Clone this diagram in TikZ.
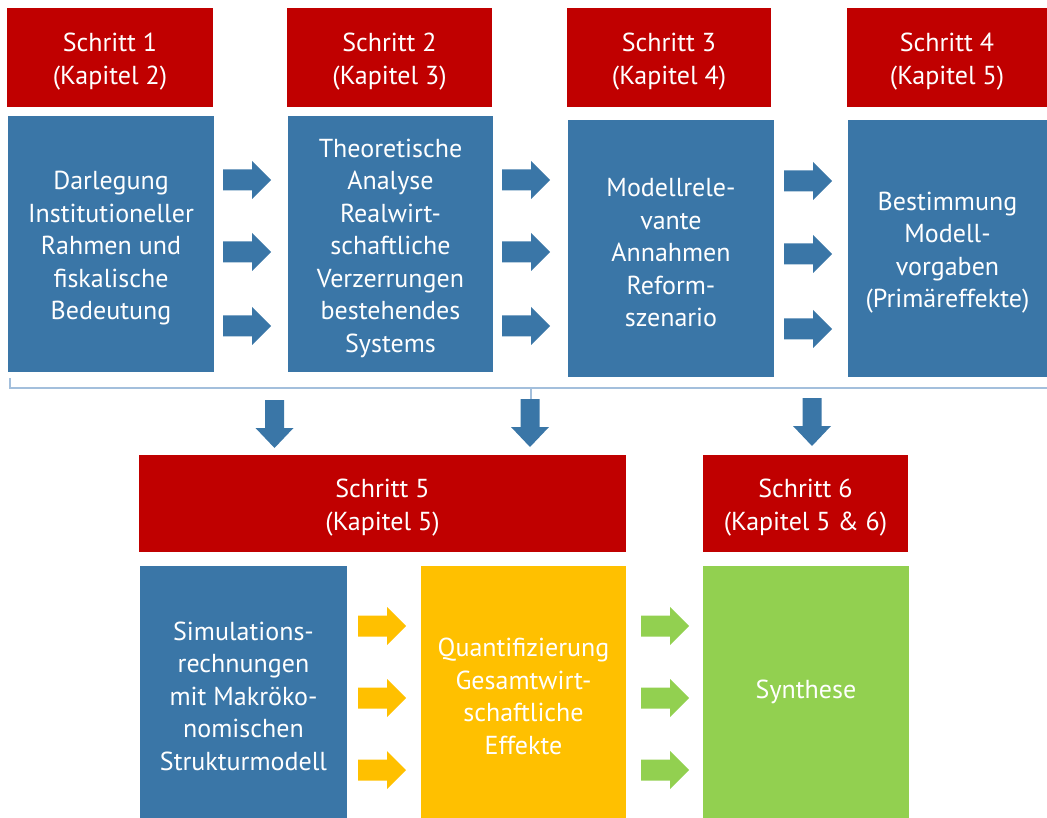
\documentclass[tikz,border=0pt]{standalone}
\usepackage{fontspec}
\setmainfont{PT Sans}
\definecolor{redC}{HTML}{C00000}
\definecolor{blueC}{HTML}{3A76A7}
\definecolor{orangeC}{HTML}{FFC000}
\definecolor{greenC}{HTML}{92D050}
\definecolor{braceC}{HTML}{A3BFDC}
\newcommand\fl{\rule{0pt}{27pt}}
\begin{document}
\begin{tikzpicture}[x=1pt,y=-1pt,
  blk/.style={rectangle, inner sep=0pt, align=center, text=white,
    font=\fontsize{26}{32.5}\selectfont},
  head/.style={blk, fill=redC},
  bbox/.style={blk, fill=blueC},
  rarr/.pic={\fill[#1] (-24,-10.5) -- (5,-10.5) -- (5,-19) -- (24,0) -- (5,19) -- (5,10.5) -- (-24,10.5) -- cycle;},
  darr/.pic={\fill[#1] (-9.5,-24) -- (9.5,-24) -- (9.5,4) -- (19,4) -- (0,24) -- (-19,4) -- (-9.5,4) -- cycle;}
]
\useasboundingbox (0,0) rectangle (1047,818);
% top headers
\node[head, minimum width=206pt, minimum height=99pt] (h1) at (110,57.5) {\fl Schritt 1\\(Kapitel 2)};
\node[head, minimum width=205pt, minimum height=99pt] (h2) at (389.5,57.5) {\fl Schritt 2\\(Kapitel 3)};
\node[head, minimum width=204pt, minimum height=99pt] (h3) at (669,57.5) {\fl Schritt 3\\(Kapitel 4)};
\node[head, minimum width=200pt, minimum height=99pt] (h4) at (947,57.5) {\fl Schritt 4\\(Kapitel 5)};
% top boxes
\node[bbox, minimum width=206pt, minimum height=256pt] (b1) at (111,244) {\fl Darlegung\\Institutioneller\\Rahmen und\\fiskalische\\Bedeutung};
\node[bbox, minimum width=205pt, minimum height=256pt] (b2) at (390.5,244) {\fl Theoretische\\Analyse\\Realwirt-\\schaftliche\\Verzerrungen\\bestehendes\\Systems};
\node[bbox, minimum width=206pt, minimum height=257pt] (b3) at (671,248.5) {\fl Modellrele-\\vante\\Annahmen\\Reform-\\szenario};
\node[bbox, minimum width=199pt, minimum height=257pt] (b4) at (947.5,248.5) {\fl Bestimmung\\Modell-\\vorgaben\\(Primäreffekte)};
% arrows top row
\foreach \y in {180,252,326} {
  \pic at (247,\y) {rarr=blueC};
  \pic at (526,\y) {rarr=blueC};
}
\foreach \y in {181,254,329} {
  \pic at (808,\y) {rarr=blueC};
}
% brace
\coordinate (bl) at (10,378);
\coordinate (bc) at (10,388);
\coordinate (br) at (1047,388);
\coordinate (bm) at (531,388);
\coordinate (bt) at (531,399);
\draw[braceC, line width=2.2pt] (bl) -- (bc) -- (br);
\draw[braceC, line width=2.2pt] (bm) -- (bt);
% down arrows
\pic at (274.5,424) {darr=blueC};
\pic at (530,423) {darr=blueC};
\pic at (812,422) {darr=blueC};
% bottom headers
\node[head, minimum width=487pt, minimum height=97pt] (h5) at (382.5,503.5) {\fl Schritt 5\\(Kapitel 5)};
\node[head, minimum width=205pt, minimum height=97pt] (h6) at (805.5,503.5) {\fl Schritt 6\\(Kapitel 5 \& 6)};
% bottom boxes
\node[bbox, minimum width=207pt, minimum height=252pt] (c1) at (243.5,692) {\fl Simulations-\\rechnungen\\mit Makröko-\\nomischen\\Strukturmodell};
\node[blk, fill=orangeC, minimum width=205pt, minimum height=252pt] (c2) at (523.5,692) {\fl Quantifizierung\\Gesamtwirt-\\schaftliche\\Effekte};
\node[blk, fill=greenC, minimum width=206pt, minimum height=252pt] (c3) at (806,692) {Synthese};
\foreach \y in {626,698,770} {
  \pic at (382,\y) {rarr=orangeC};
  \pic at (665,\y) {rarr=greenC};
}
\end{tikzpicture}
\end{document}
